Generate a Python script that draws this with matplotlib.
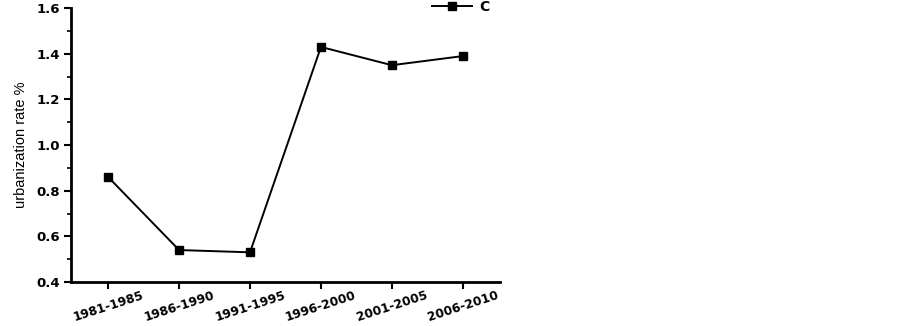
import matplotlib.pyplot as plt
import matplotlib.transforms as mtransforms
from matplotlib.ticker import MultipleLocator

periods = ["1981-1985", "1986-1990", "1991-1995", "1996-2000", "2001-2005", "2006-2010"]
rate_c = [0.86, 0.54, 0.53, 1.43, 1.35, 1.39]

plt.rcParams['font.family'] = ['DejaVu Sans']

fig = plt.figure(figsize=(9.02, 3.26), dpi=100)
ax = fig.add_axes([0.079, 0.135, 0.475, 0.84])

x = list(range(len(periods)))
ax.plot(x, rate_c, color='black', lw=1.4, marker='s', markersize=6.2, label='C')

ax.set_xlim(-0.52, 5.52)
ax.set_ylim(0.4, 1.6)
ax.yaxis.set_major_locator(MultipleLocator(0.2))
ax.yaxis.set_minor_locator(MultipleLocator(0.1))
ax.set_xticks(x)
ax.set_xticklabels(periods, rotation=18, ha='center', fontweight='bold', fontsize=8.8)
shift = mtransforms.ScaledTranslation(5 / 100, 0, fig.dpi_scale_trans)
for lab in ax.get_xticklabels():
    lab.set_transform(lab.get_transform() + shift)
for lab in ax.get_yticklabels():
    lab.set_fontweight('bold')
    lab.set_fontsize(9.5)

ax.spines['top'].set_visible(False)
ax.spines['right'].set_visible(False)
ax.spines['left'].set_linewidth(2)
ax.spines['bottom'].set_linewidth(2)
ax.tick_params(axis='both', which='major', direction='out', length=5, width=1.5, pad=3)
ax.tick_params(axis='x', which='major', pad=0)
ax.tick_params(axis='y', which='minor', direction='out', length=3, width=1.2)

ax.set_ylabel("urbanization rate %", fontsize=10.5, family='Liberation Sans', labelpad=6)

leg = ax.legend(loc='center left', bbox_to_anchor=(432 / 902, 1 - 7 / 326),
                bbox_transform=fig.transFigure, frameon=False, borderpad=0,
                borderaxespad=0, handlelength=2.9, handletextpad=0.5,
                prop={'weight': 'bold', 'size': 10})

fig.savefig("out.png", dpi=100)
